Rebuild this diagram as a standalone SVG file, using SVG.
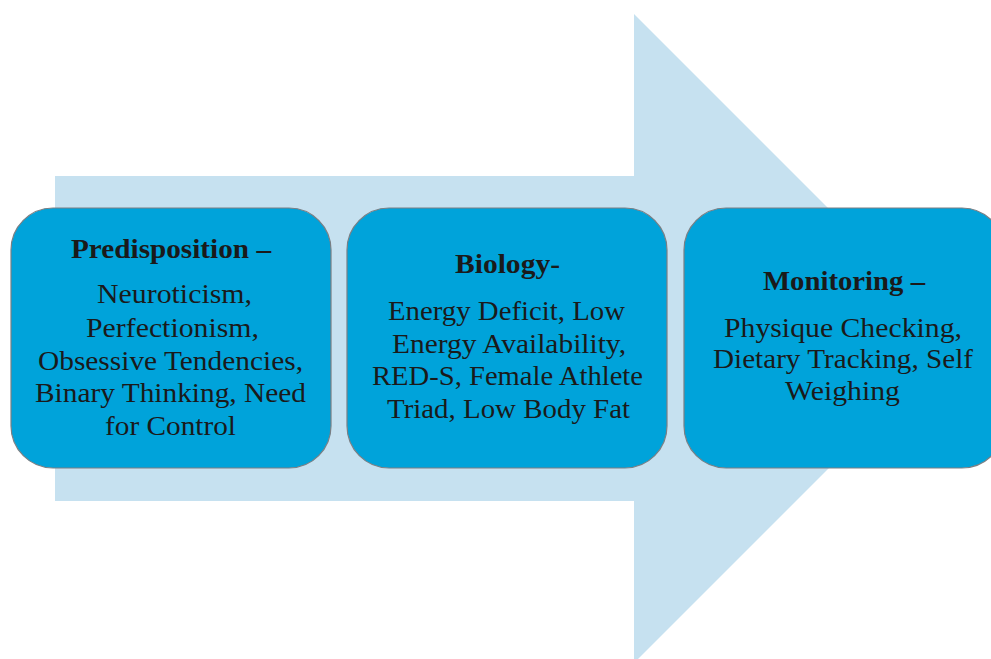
<svg xmlns="http://www.w3.org/2000/svg" width="991" height="659" viewBox="0 0 991 659">
  <style>
    .box { fill: #00a3da; stroke: #7a7f84; stroke-width: 1.2; }
    .t { font-family: "Liberation Serif", "Times New Roman", serif; font-size: 27px; fill: #1a1a1a; text-anchor: middle; }
    .h { font-weight: bold; }
  </style>
  <rect width="991" height="659" fill="#ffffff"/>

  <!-- background flow arrow -->
  <g id="flow-arrow">
    <polygon points="55,176 634,176 634,14 958.5,338.5 634,663 634,501 55,501" fill="#c6e1f0"/>
  </g>

  <g id="node-predisposition">
    <rect class="box" x="11" y="208" width="320" height="260" rx="42" ry="42"/>
    <text class="t h" x="171" y="258" textLength="200" lengthAdjust="spacingAndGlyphs">Predisposition –</text>
    <text class="t" x="174.5" y="303" textLength="155" lengthAdjust="spacingAndGlyphs">Neuroticism,</text>
    <text class="t" x="172.5" y="337" textLength="173" lengthAdjust="spacingAndGlyphs">Perfectionism,</text>
    <text class="t" x="170.5" y="370" textLength="265" lengthAdjust="spacingAndGlyphs">Obsessive Tendencies,</text>
    <text class="t" x="170.5" y="402" textLength="271" lengthAdjust="spacingAndGlyphs">Binary Thinking, Need</text>
    <text class="t" x="170.5" y="435" textLength="131" lengthAdjust="spacingAndGlyphs">for Control</text>
  </g>

  <g id="node-biology">
    <rect class="box" x="347" y="208" width="320" height="260" rx="42" ry="42"/>
    <text class="t h" x="507.5" y="273" textLength="105" lengthAdjust="spacingAndGlyphs">Biology-</text>
    <text class="t" x="506.5" y="320" textLength="237" lengthAdjust="spacingAndGlyphs">Energy Deficit, Low</text>
    <text class="t" x="509" y="353" textLength="234" lengthAdjust="spacingAndGlyphs">Energy Availability,</text>
    <text class="t" x="507.5" y="385" textLength="271" lengthAdjust="spacingAndGlyphs">RED-S, Female Athlete</text>
    <text class="t" x="508.5" y="418" textLength="243" lengthAdjust="spacingAndGlyphs">Triad, Low Body Fat</text>
  </g>

  <g id="node-monitoring">
    <rect class="box" x="684" y="208" width="320" height="260" rx="42" ry="42"/>
    <text class="t h" x="844" y="290" textLength="162" lengthAdjust="spacingAndGlyphs">Monitoring –</text>
    <text class="t" x="843" y="337" textLength="238" lengthAdjust="spacingAndGlyphs">Physique Checking,</text>
    <text class="t" x="843" y="368" textLength="260" lengthAdjust="spacingAndGlyphs">Dietary Tracking, Self</text>
    <text class="t" x="842.5" y="400" textLength="115" lengthAdjust="spacingAndGlyphs">Weighing</text>
  </g>

  <g id="connectors"></g>
</svg>
